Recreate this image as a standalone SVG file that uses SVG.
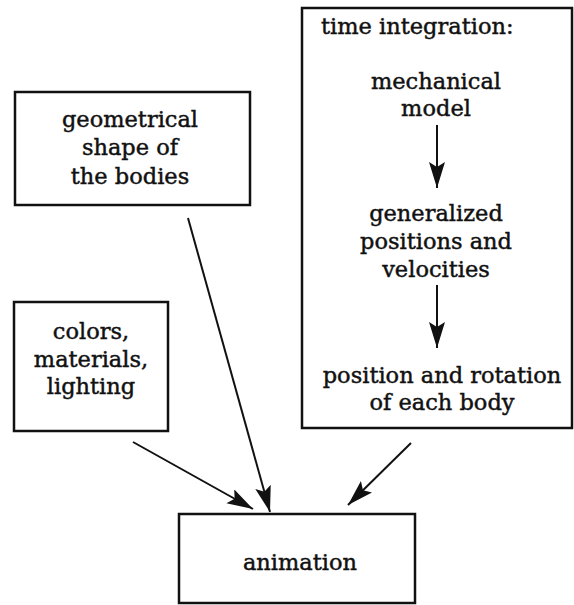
<svg xmlns="http://www.w3.org/2000/svg" width="574" height="605" viewBox="0 0 574 605">
<style>
.box{fill:none;stroke:#111;stroke-width:2.5}
.t{font-family:"DejaVu Serif","Liberation Serif",serif;font-size:22.5px;fill:#111;stroke:#111;stroke-width:0.45;text-anchor:middle}
.l{text-anchor:start}
.c{stroke:#111;stroke-width:2;fill:none}
</style>
<defs>
<marker id="ah" markerUnits="userSpaceOnUse" markerWidth="28" markerHeight="18" refX="26" refY="8" orient="auto">
<path d="M0,0 L26,8 L0,16 L5,8 Z" fill="#111"/>
</marker>
</defs>
<rect width="574" height="605" fill="#fff"/>
<g id="geometry">
<rect class="box" x="15" y="92" width="235" height="113"/>
<text class="t" x="130" y="127">geometrical</text>
<text class="t" x="130" y="155">shape of</text>
<text class="t" x="130" y="184">the bodies</text>
</g>
<g id="colors">
<rect class="box" x="14" y="302" width="154" height="129"/>
<text class="t" x="91" y="339">colors,</text>
<text class="t" x="91" y="367">materials,</text>
<text class="t" x="91" y="394">lighting</text>
</g>
<g id="integration">
<rect class="box" x="302" y="8" width="270" height="420"/>
<text class="t l" x="321" y="34">time integration:</text>
<text class="t" x="436" y="89">mechanical</text>
<text class="t" x="436" y="116">model</text>
<text class="t" x="436" y="221">generalized</text>
<text class="t" x="436" y="249">positions and</text>
<text class="t" x="436" y="277">velocities</text>
<text class="t" x="442" y="383">position and rotation</text>
<text class="t" x="442" y="410">of each body</text>
<line class="c" x1="437" y1="125" x2="437" y2="188" marker-end="url(#ah)"/>
<line class="c" x1="437" y1="285" x2="437" y2="348" marker-end="url(#ah)"/>
</g>
<g id="animation">
<rect class="box" x="179" y="514" width="236" height="89"/>
<text class="t" x="300" y="570">animation</text>
</g>
<g id="connectors">
<line class="c" x1="188" y1="218" x2="270" y2="512" marker-end="url(#ah)"/>
<line class="c" x1="133" y1="442" x2="253" y2="509" marker-end="url(#ah)"/>
<line class="c" x1="411" y1="443" x2="348" y2="505" marker-end="url(#ah)"/>
</g>
</svg>
